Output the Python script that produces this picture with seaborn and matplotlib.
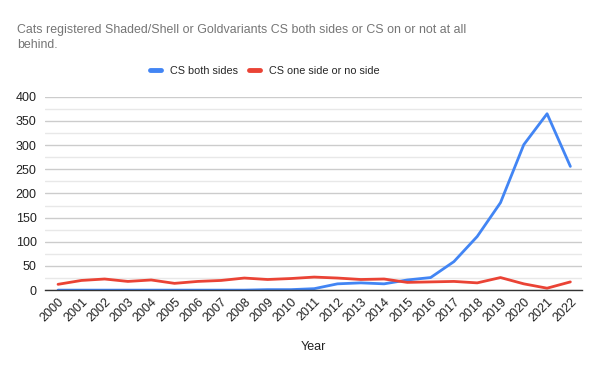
import matplotlib
matplotlib.use("Agg")
import matplotlib.pyplot as plt
import seaborn as sns
import pandas as pd
import numpy as np
from matplotlib.lines import Line2D

years = list(range(2000, 2023))
both_sides = [0, 0, 0, 0, 0, 0, 0, 0, 0, 1, 1, 3, 13, 15, 13, 21, 26, 59, 111, 181, 301, 365, 256]
one_or_no_side = [12, 20, 23, 18, 21, 14, 18, 20, 25, 22, 24, 27, 25, 22, 23, 16, 17, 18, 15, 26, 13, 4, 17]
series_names = ["CS both sides", "CS one side or no side"]
colors = ["#4285F4", "#EA4335"]

df = pd.DataFrame({
    "Year": list(range(len(years))) * 2,
    "Value": both_sides + one_or_no_side,
    "Series": [series_names[0]] * len(years) + [series_names[1]] * len(years),
})

sns.set_theme(style="white")
plt.rcParams["font.family"] = ["Liberation Sans", "DejaVu Sans"]

fig = plt.figure(figsize=(6, 3.71), dpi=100)
ax = fig.add_axes([0.075, 0.218, 0.895, 0.521])

sns.lineplot(data=df, x="Year", y="Value", hue="Series", palette=colors,
             linewidth=2, ax=ax, legend=False)

ax.set_ylim(0, 400)
ax.set_xlim(-0.56, len(years) - 0.5)
ax.set_yticks(np.arange(0, 401, 50))
ax.set_yticks(np.arange(25, 400, 50), minor=True)
ax.grid(True, which="major", axis="y", color="#cccccc", linewidth=1)
ax.grid(True, which="minor", axis="y", color="#e8e8e8", linewidth=1)
ax.set_axisbelow(True)
for s in ["top", "right", "left"]:
    ax.spines[s].set_visible(False)
ax.spines["bottom"].set_color("#333333")
ax.spines["bottom"].set_linewidth(1)

ax.set_xticks(range(len(years)))
ax.set_xticklabels([str(y) for y in years], rotation=45, ha="right",
                   rotation_mode="anchor", fontsize=9, color="#222222")
ax.tick_params(axis="y", labelsize=9, labelcolor="#222222", length=0, pad=6)
ax.tick_params(axis="x", length=0, pad=4)
ax.set_xlabel("Year", fontsize=9, color="#222222", labelpad=12)
ax.set_ylabel("")

fig.text(0.028, 0.90, "Cats registered Shaded/Shell or Goldvariants CS both sides or CS on or not at all\nbehind.",
         fontsize=8.9, color="#757575", ha="left", va="center", linespacing=1.35)

handles = [Line2D([0], [0], color=c, linewidth=3.5) for c in colors]
fig.legend(handles, series_names, loc="center left", bbox_to_anchor=(0.25, 0.808),
           ncol=2, frameon=False, fontsize=7.8, handlelength=1.0,
           columnspacing=1.1, handletextpad=0.8, borderaxespad=0, borderpad=0)

fig.savefig("out.png", dpi=100)
